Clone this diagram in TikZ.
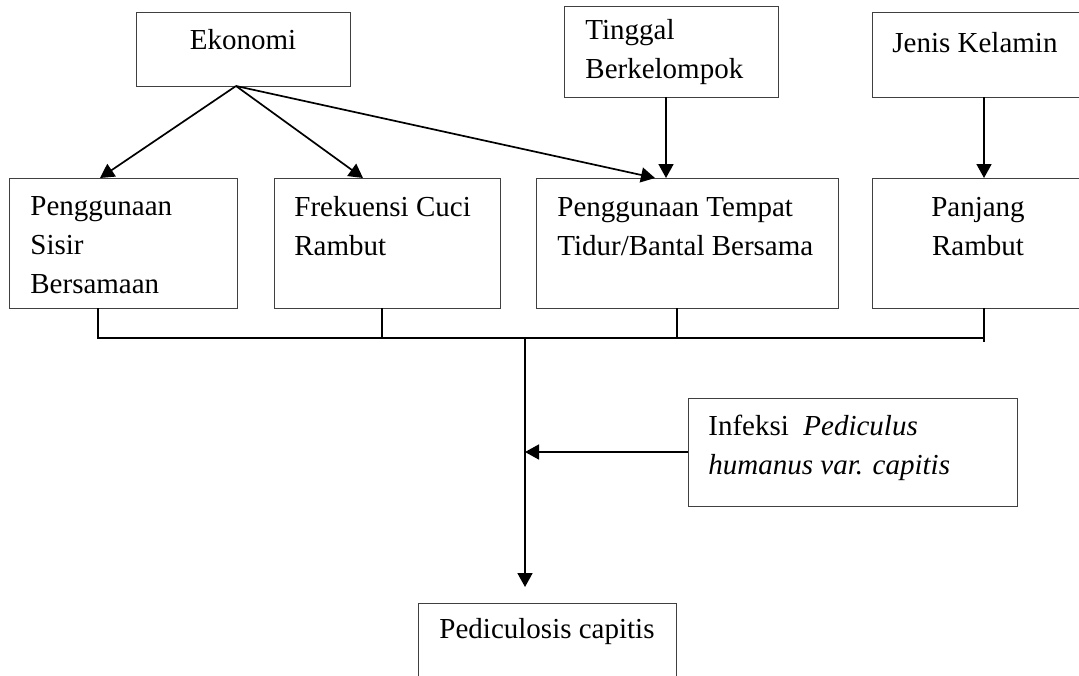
\documentclass[tikz,border=0pt]{standalone}
\usepackage{fontspec}
\setmainfont{Liberation Serif}
\usetikzlibrary{arrows.meta}

\begin{document}
\begin{tikzpicture}[x=0.5pt, y=-0.5pt,
  box/.style={draw=black!75, line width=0.5pt, rectangle, inner sep=0pt, outer sep=0pt},
  txt/.style={inner sep=0pt, font=\fontsize{14.5}{19.5}\selectfont, align=left},
  arr/.style={line width=0.85pt, -{Triangle[length=7pt,width=7.5pt]}},
  bar/.style={line width=0.8pt}]
% Set the page to the size of the picture
\clip (0,0) rectangle (1079,675);
\useasboundingbox (0,0) rectangle (1079,675);

% Draw the boxes of the top row
\node[box, minimum width=107pt, minimum height=37pt] (eko) at (243,49) {};
\node[box, minimum width=107pt, minimum height=45.5pt] (tinggal) at (671,51.5) {};
\node[box, minimum width=114pt, minimum height=42.5pt] (jenis) at (986,54.5) {};

% Draw the boxes of the middle row
\node[box, minimum width=114pt, minimum height=65pt] (sisir) at (123,243) {};
\node[box, minimum width=113pt, minimum height=65pt] (cuci) at (387,243) {};
\node[box, minimum width=151pt, minimum height=65pt] (tidur) at (687,243) {};
\node[box, minimum width=114pt, minimum height=65pt] (panjang) at (986,243) {};

% Draw the boxes of the lower part
\node[box, minimum width=164.5pt, minimum height=54pt] (infeksi) at (852.5,452) {};
\node[box, minimum width=129pt, minimum height=48.5pt] (pedi) at (547,651.5) {};

% Insert the texts
\node[txt] (teko) at (243,40) {Ekonomi};
\node[txt, anchor=west] (ttinggal) at (585,52.5) {Tinggal\\Berkelompok};
\node[txt, anchor=west] (tjenis) at (892,43) {Jenis Kelamin};
\node[txt, anchor=west] (tsisir) at (30,245) {Penggunaan\\Sisir\\Bersamaan};
\node[txt, anchor=west] (tcuci) at (294,226) {Frekuensi Cuci\\Rambut};
\node[txt, anchor=west] (ttidur) at (557,227) {Penggunaan Tempat\\Tidur/Bantal Bersama};
\node[txt, align=center] (tpanjang) at (978,227) {Panjang\\Rambut};
\node[txt, anchor=west] (tinfeksi) at (708,447.5) {Infeksi\ \ \textit{Pediculus}\\\textit{humanus var. capitis}};
\node[txt] (tpedi) at (547,632) {Pediculosis capitis};

% Arrows between the boxes
\draw[arr] ([xshift=-3.5pt]eko.south) -- ([xshift=-11.5pt]sisir.north);
\draw[arr] ([xshift=-3.5pt]eko.south) -- ([xshift=-12pt]cuci.north);
\draw[arr] ([xshift=-3.5pt]eko.south) -- ([xshift=-16pt]tidur.north);
\draw[arr] ([xshift=-2.5pt]tinggal.south) -- ([xshift=-10.5pt]tidur.north);
\draw[arr] ([xshift=-1pt]jenis.south) -- ([xshift=-1pt]panjang.north);

% Join the middle row into one line
\coordinate (bl) at (98,338);
\coordinate (br) at (984,338);
\coordinate (bm) at (525,338);
\coordinate (bend) at (984,342);
\draw[bar] ([xshift=-12.5pt]sisir.south) -- (bl) -- (br);
\draw[bar] ([xshift=-1pt]panjang.south) -- (bend);
\draw[bar] ([xshift=-2.5pt]cuci.south) |- (bl);
\draw[bar] ([xshift=-5pt]tidur.south) |- (bl);

% Main line down to the result
\draw[arr] (bm) -- ([xshift=-11pt,yshift=8pt]pedi.north);
\draw[arr] (infeksi.west) -- (infeksi.west -| bm);
\end{tikzpicture}
\end{document}
